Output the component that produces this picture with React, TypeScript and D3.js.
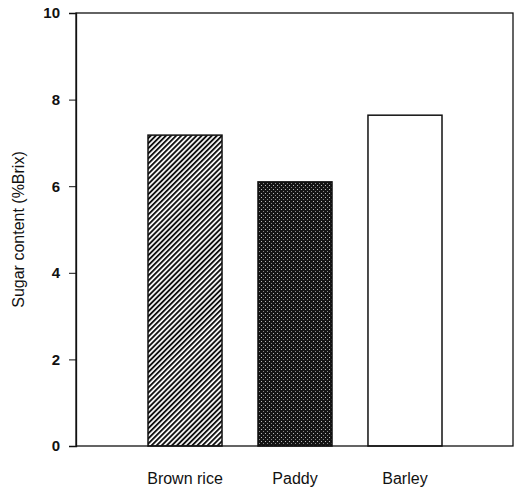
import { useEffect, useRef } from 'react';
import * as d3 from 'd3';

const categories = ['Brown rice', 'Paddy', 'Barley'];
const sugarValues = [7.18, 6.1, 7.64];
const yTicks = [0, 2, 4, 6, 8, 10];
const yLabel = 'Sugar content (%Brix)';

export default function App() {
  const ref = useRef<SVGSVGElement>(null);

  useEffect(() => {
    if (!ref.current) return;
    const width = 519;
    const height = 492;
    const margin = { top: 13, right: 6, bottom: 46, left: 76 };

    const svg = d3.select(ref.current);
    svg.selectAll('*').remove();

    const defs = svg.append('defs');
    // diagonal hatch for brown rice
    const hatch = defs.append('pattern')
      .attr('id', 'hatch')
      .attr('patternUnits', 'userSpaceOnUse')
      .attr('width', 3.6)
      .attr('height', 3.6)
      .attr('patternTransform', 'rotate(45)');
    hatch.append('rect').attr('width', 3.6).attr('height', 3.6).attr('fill', '#fff');
    hatch.append('rect').attr('width', 1.9).attr('height', 3.6).attr('fill', '#111');

    // dense dotted fill for paddy
    const dots = defs.append('pattern')
      .attr('id', 'dots')
      .attr('patternUnits', 'userSpaceOnUse')
      .attr('width', 4)
      .attr('height', 4);
    dots.append('rect').attr('width', 4).attr('height', 4).attr('fill', '#151515');
    dots.append('rect').attr('x', 1).attr('y', 1).attr('width', 1).attr('height', 1).attr('fill', '#bbb');
    dots.append('rect').attr('x', 3).attr('y', 3).attr('width', 1).attr('height', 1).attr('fill', '#888');

    const fills = ['url(#hatch)', 'url(#dots)', '#fff'];

    const x = d3.scaleBand<string>()
      .domain(categories)
      .range([148, 442])
      .paddingInner(0.327)
      .paddingOuter(0);

    const y = d3.scaleLinear()
      .domain([0, 10])
      .range([height - margin.bottom, margin.top]);

    const fontFamily = 'Liberation Sans, Arial, sans-serif';

    // bars
    svg.append('g')
      .selectAll('rect')
      .data(categories)
      .join('rect')
      .attr('x', d => x(d)!)
      .attr('width', x.bandwidth())
      .attr('y', (_, i) => y(sugarValues[i]))
      .attr('height', (_, i) => y(0) - y(sugarValues[i]))
      .attr('fill', (_, i) => fills[i])
      .attr('stroke', '#111')
      .attr('stroke-width', 1.5);

    // frame
    svg.append('rect')
      .attr('x', margin.left)
      .attr('y', margin.top)
      .attr('width', width - margin.left - margin.right)
      .attr('height', height - margin.top - margin.bottom)
      .attr('fill', 'none')
      .attr('stroke', '#111')
      .attr('stroke-width', 1.3);

    // y axis
    const yAxis = svg.append('g')
      .attr('transform', `translate(${margin.left},0)`)
      .call(d3.axisLeft(y).tickValues(yTicks).tickSize(7).tickPadding(9).tickFormat(d3.format('d')));
    yAxis.select('.domain').attr('stroke', '#111').attr('stroke-width', 1.3);
    yAxis.selectAll('.tick line').attr('stroke', '#111');
    yAxis.selectAll('.tick text')
      .attr('fill', '#111')
      .style('font-family', fontFamily)
      .style('font-size', '15px')
      .style('font-weight', 'bold');

    // category labels
    svg.append('g')
      .selectAll('text')
      .data(categories)
      .join('text')
      .attr('x', d => x(d)! + x.bandwidth() / 2)
      .attr('y', 484)
      .attr('text-anchor', 'middle')
      .attr('fill', '#111')
      .style('font-family', fontFamily)
      .style('font-size', '16px')
      .text(d => d);

    // y label
    svg.append('text')
      .attr('transform', `translate(24,${(margin.top + height - margin.bottom) / 2}) rotate(-90)`)
      .attr('text-anchor', 'middle')
      .attr('fill', '#111')
      .style('font-family', fontFamily)
      .style('font-size', '16px')
      .text(yLabel);
  }, []);

  return (
    <svg
      ref={ref}
      width={519}
      height={492}
      style={{ position: 'absolute', left: 0, top: 0, background: '#fff' }}
    />
  );
}
